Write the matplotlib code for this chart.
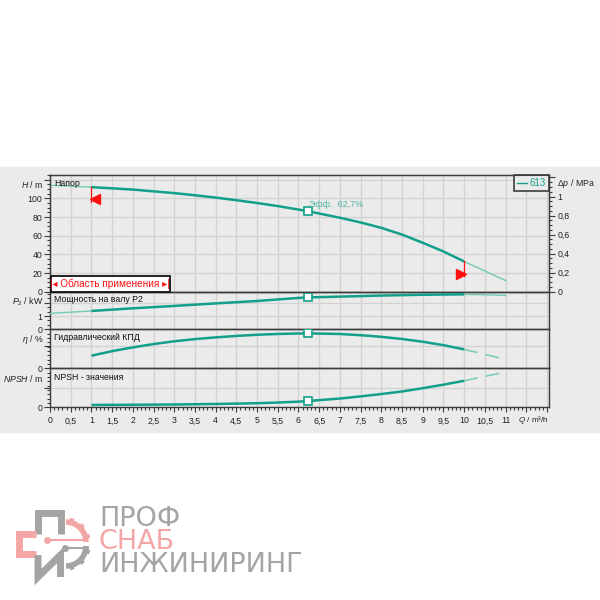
import matplotlib
matplotlib.use('Agg')
import matplotlib.pyplot as plt
import matplotlib.transforms as mtransforms
from matplotlib.ticker import MultipleLocator, FixedLocator, FuncFormatter
from matplotlib.patches import Rectangle, Arc
from matplotlib.lines import Line2D
import numpy as np

plt.rcParams['font.family'] = ['Liberation Sans', 'DejaVu Sans']
plt.rcParams['mathtext.fontset'] = 'custom'
plt.rcParams['mathtext.rm'] = 'Liberation Sans'
plt.rcParams['mathtext.it'] = 'Liberation Sans:italic'

# --- pump curve data ---
q_h = [0, 1, 2, 3, 3.5, 4, 4.5, 5, 5.5, 6, 6.22, 7, 7.5, 8, 8.5, 9, 9.5, 10, 11]
head = [114, 112, 109.4, 105.6, 103.3, 100.8, 98, 95, 91.7, 88, 86.3, 79.2, 74.2, 68.4,
        61.2, 52.4, 43.1, 32.4, 12]

q_p = [0, 1, 2, 3, 4, 5, 6, 6.22, 7, 8, 9, 10, 10.5, 11]
power = [1.2, 1.38, 1.58, 1.76, 1.95, 2.13, 2.36, 2.4, 2.46, 2.54, 2.6, 2.63, 2.6, 2.55]

q_e = [1, 1.5, 2, 2.5, 3, 3.5, 4, 4.5, 5, 5.5, 6, 6.22, 7, 7.5, 8, 8.5, 9, 9.5, 10, 11]
eff = [22.6, 30.8, 37.5, 43.5, 48.5, 52.4, 55.5, 58.1, 60.2, 61.6, 62.5, 62.7, 61.6, 59.4,
       56.5, 52.6, 47.7, 41.5, 34, 16]

q_n = [1, 2, 3, 4, 5, 5.5, 6, 6.22, 7, 7.5, 8, 8.5, 9, 9.5, 10, 11]
npsh = [0.6, 0.65, 0.72, 0.85, 1.05, 1.22, 1.45, 1.6, 2.25, 2.8, 3.4, 4.05, 4.9, 5.8, 6.8, 9.05]

q_bep = 6.22
h_bep = 86.3
p_bep = 2.4
e_bep = 62.7
n_bep = 1.6

q_min, q_max = 1, 10          # operating range
x_ticks_max = 11
pump_label = '613'

teal = '#12a08a'
teal_thin = '#72c9b8'
red = '#ff1010'
bg = '#ebebeb'
grid_c = '#d2d2d2'
dark = '#3c3c3c'

fig = plt.figure(figsize=(6, 6), dpi=100)


def box(top, bottom, left=50, right=549):
    return [left / 600, 1 - bottom / 600, (right - left) / 600, (bottom - top) / 600]


def fpos(px, py):
    return px / 600, 1 - py / 600


def comma(v, pos=None):
    return ('%g' % round(v, 2)).replace('.', ',')


fig.add_artist(Rectangle((0, 1 - 432 / 600), 1, (432 - 167) / 600,
                         transform=fig.transFigure, color=bg, zorder=-2))

ax_h = fig.add_axes(box(175, 291.7))
ax_p = fig.add_axes(box(291.7, 329.3), sharex=ax_h)
ax_e = fig.add_axes(box(329.3, 368.3), sharex=ax_h)
ax_n = fig.add_axes(box(368.3, 407.3), sharex=ax_h)
axes = [ax_h, ax_p, ax_e, ax_n]

for ax in axes:
    ax.set_facecolor('none')
    for s in ax.spines.values():
        s.set_color(dark)
        s.set_linewidth(1)
    ax.grid(True, color=grid_c, lw=1)
    ax.set_axisbelow(True)
    ax.tick_params(axis='y', which='major', direction='out', length=4, width=0.8,
                   color=dark, labelsize=6.3, labelcolor='#222222', pad=1.5)
    ax.tick_params(axis='y', which='minor', direction='out', length=2.5, width=0.8, color=dark)
    ax.tick_params(axis='x', which='both', bottom=False, labelbottom=False)

ax_h.set_xlim(0, 12.05)
ax_h.xaxis.set_major_locator(MultipleLocator(0.5))
ax_h.xaxis.set_minor_locator(MultipleLocator(0.1))
ax_n.tick_params(axis='x', which='major', bottom=True, labelbottom=True, direction='out',
                 length=3.5, width=0.8, color=dark, labelsize=6.3, labelcolor='#222222', pad=3)
ax_n.tick_params(axis='x', which='minor', bottom=True, direction='out', length=2,
                 width=0.8, color=dark)
ax_n.xaxis.set_major_formatter(FuncFormatter(lambda v, p: comma(v) if v <= x_ticks_max + 0.01 else ''))

# Head panel
ax_h.set_ylim(0, 125)
ax_h.yaxis.set_major_locator(MultipleLocator(20))
ax_h.yaxis.set_minor_locator(MultipleLocator(5))
ax_h.yaxis.set_major_formatter(FuncFormatter(lambda v, p: '%d' % v if v <= 100 else ''))

# Power panel
ax_p.set_ylim(0, 2.83)
ax_p.yaxis.set_major_locator(FixedLocator([0, 1, 2]))
ax_p.yaxis.set_minor_locator(MultipleLocator(1 / 3))
ax_p.yaxis.set_major_formatter(FuncFormatter(lambda v, p: '%d' % v if v < 1.5 else ''))

# Efficiency panel
ax_e.set_ylim(0, 70)
ax_e.yaxis.set_major_locator(FixedLocator([0, 40]))
ax_e.yaxis.set_minor_locator(MultipleLocator(70 / 9))
ax_e.yaxis.set_major_formatter(FuncFormatter(lambda v, p: '0' if v == 0 else ''))

# NPSH panel
ax_n.set_ylim(0, 10)
ax_n.yaxis.set_major_locator(FixedLocator([0, 5]))
ax_n.yaxis.set_minor_locator(MultipleLocator(10 / 9))
ax_n.yaxis.set_major_formatter(FuncFormatter(lambda v, p: '0' if v == 0 else ''))

# right pressure axis
ax_dp = ax_h.twinx()
ax_dp.set_ylim(0, 125 / 101.97)
ax_dp.yaxis.set_major_locator(MultipleLocator(0.2))
ax_dp.yaxis.set_minor_locator(MultipleLocator(0.05))
ax_dp.yaxis.set_major_formatter(FuncFormatter(lambda v, p: comma(v) if v <= 1.01 else ''))
ax_dp.tick_params(axis='y', which='major', direction='out', length=4, width=0.8,
                  color=dark, labelsize=6.3, labelcolor='#222222', pad=2)
ax_dp.tick_params(axis='y', which='minor', direction='out', length=2.5, width=0.8, color=dark)
for s in ax_dp.spines.values():
    s.set_color(dark)


def split_plot(ax, q, v, thin_left=True, dashed_right=False):
    q = np.asarray(q, float)
    v = np.asarray(v, float)
    if thin_left:
        m = q <= q_min
        ax.plot(q[m], v[m], color=teal_thin, lw=1, zorder=3)
    m = (q >= q_min) & (q <= q_max)
    ax.plot(q[m], v[m], color=teal, lw=1.8, zorder=4, solid_capstyle='butt')
    m = q >= q_max
    if dashed_right:
        ax.plot(q[m], v[m], color=teal_thin, lw=1.1, zorder=3, dashes=(9, 5.5), dash_capstyle='butt')
    else:
        ax.plot(q[m], v[m], color=teal_thin, lw=1, zorder=3)


split_plot(ax_h, q_h, head)
split_plot(ax_p, q_p, power)
split_plot(ax_e, q_e, eff, thin_left=False, dashed_right=True)
split_plot(ax_n, q_n, npsh, thin_left=False, dashed_right=True)

for ax, yv in [(ax_h, h_bep), (ax_p, p_bep), (ax_e, e_bep), (ax_n, n_bep)]:
    ax.plot([q_bep], [yv], marker='s', ms=5.5, mfc='white', mec=teal, mew=1.2, zorder=6)

ax_h.annotate('Эфф.  ' + comma(e_bep) + '%', (q_bep, h_bep), xytext=(1, 4.5),
              textcoords='offset points', ha='left', va='center', fontsize=6.4,
              color='#4fb5a2', zorder=7)

# operating range markers
h_at_min = np.interp(q_min, q_h, head)
h_at_max = np.interp(q_max, q_h, head)
ax_h.plot([q_min, q_min], [h_at_min, h_at_min - 16], color=red, lw=0.9, zorder=5)
ax_h.plot([q_max, q_max], [h_at_max, h_at_max - 16], color=red, lw=0.9, zorder=5)
sh_r = mtransforms.offset_copy(ax_h.transData, fig=fig, x=3.2, y=0, units='dots')
sh_l = mtransforms.offset_copy(ax_h.transData, fig=fig, x=-3.2, y=0, units='dots')
ax_h.plot([q_min], [h_at_min - 13], marker='<', ms=6.5, color=red, mec=red, transform=sh_r, zorder=6)
ax_h.plot([q_max], [h_at_max - 13], marker='>', ms=6.5, color=red, mec=red, transform=sh_l, zorder=6)

# legend
leg = ax_h.legend(handles=[Line2D([], [], color=teal, lw=1)], labels=[pump_label],
                  loc='upper right', bbox_to_anchor=(1, 1), borderaxespad=0,
                  fancybox=False, edgecolor=dark, facecolor=bg, framealpha=1,
                  handlelength=1.0, handletextpad=0.3, borderpad=0.3, fontsize=7,
                  labelcolor=teal)
leg.get_frame().set_linewidth(1.2)
leg.set_zorder(10)

# application range box
fig.add_artist(Rectangle(fpos(50.7, 291.5), 119.3 / 600, 15.5 / 600, transform=fig.transFigure,
                         facecolor='white', edgecolor='#111111', lw=1.3, zorder=5))
fig.text(*fpos(110, 284), '|◂ Область применения ▸|', ha='center', va='center',
         fontsize=7.2, color=red, zorder=6)

# panel captions
for py, s in [(184, 'Напор'), (300, 'Мощность на валу P2'),
              (338, 'Гидравлический КПД'), (377, 'NPSH - значения')]:
    fig.text(*fpos(54, py), s, ha='left', va='center', fontsize=6.3, color='#111111')

# axis labels
for py, s in [(184, '$H$ / m'), (302, '$P_2$ / kW'), (340, r'$\eta$ / %'), (378, '$NPSH$ / m')]:
    fig.text(*fpos(43.5, py), s, ha='right', va='center', fontsize=6.3, color='#222222')
fig.text(*fpos(557, 184), r'$\Delta p$ / MPa', ha='left', va='center', fontsize=6.3, color='#222222')
fig.text(*fpos(549, 420), '$Q$ / m³/h', ha='right', va='center', fontsize=5.9, color='#222222')

# --- logo ---
gray = '#a4a4a4'
pink = '#f4a6a6'
lg = fig.add_axes([0, 0, 1, 1], zorder=-1)
lg.set_xlim(0, 600)
lg.set_ylim(600, 0)
lg.axis('off')
lw = 5
lg.plot([38, 38, 60.5, 60.5], [534, 512.5, 512.5, 534], color=gray, lw=lw,
        solid_joinstyle='miter', solid_capstyle='butt')
lg.plot([36, 18.5, 18.5, 36], [533.5, 533.5, 554, 554], color=pink, lw=lw,
        solid_joinstyle='miter', solid_capstyle='butt')
lg.plot([38, 38, 60.5, 60.5], [555, 577, 555, 577], color=gray, lw=lw,
        solid_joinstyle='miter', solid_capstyle='butt')
lg.add_patch(Arc((66, 542), 40, 40, theta1=270, theta2=360, color=pink, lw=4))
lg.add_patch(Arc((66, 546), 40, 40, theta1=0, theta2=90, color=gray, lw=4))
for a in [285, 315, 345]:
    t = np.radians(a)
    lg.plot([66 + 20 * np.cos(t), 66 + 24.5 * np.cos(t)], [542 + 20 * np.sin(t), 542 + 24.5 * np.sin(t)],
            color=pink, lw=3.2, solid_capstyle='butt')
for a in [15, 45, 75]:
    t = np.radians(a)
    lg.plot([66 + 20 * np.cos(t), 66 + 24.5 * np.cos(t)], [546 + 20 * np.sin(t), 546 + 24.5 * np.sin(t)],
            color=gray, lw=3.2, solid_capstyle='butt')
lg.plot([47, 84], [540, 540], color=pink, lw=1.5)
lg.plot([47], [540], 'o', color=pink, ms=4)
lg.plot([65, 88], [548, 548], color=gray, lw=1.5)
lg.plot([65], [548], 'o', color=gray, ms=4)

logo_font = dict(fontsize=19.5, va='center', ha='left', family='DejaVu Sans')
lg.text(99, 518.5, 'ПРОФ', color=gray, **logo_font)
lg.text(99, 542, 'СНАБ', color=pink, **logo_font)
lg.text(99, 565.5, 'ИНЖИНИРИНГ', color=gray, **logo_font)

fig.savefig('out.png', dpi=100)
